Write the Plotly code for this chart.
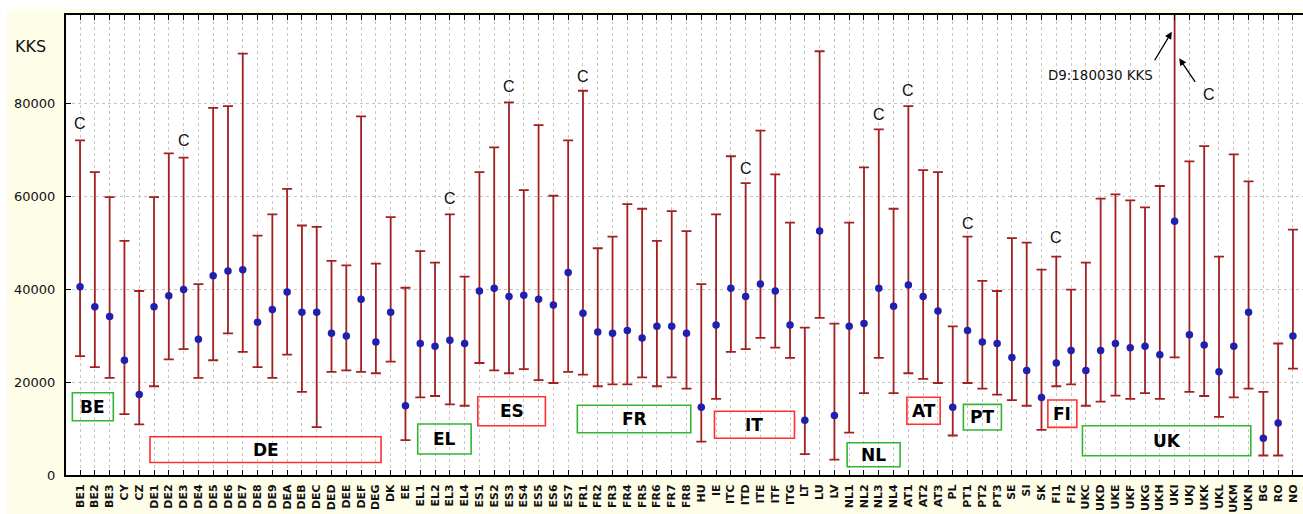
import plotly.graph_objects as go

regions = ["BE1","BE2","BE3","CY","CZ","DE1","DE2","DE3","DE4","DE5","DE6","DE7","DE8","DE9","DEA","DEB","DEC","DED","DEE","DEF","DEG","DK","EE","EL1","EL2","EL3","EL4","ES1","ES2","ES3","ES4","ES5","ES6","ES7","FR1","FR2","FR3","FR4","FR5","FR6","FR7","FR8","HU","IE","ITC","ITD","ITE","ITF","ITG","LT","LU","LV","NL1","NL2","NL3","NL4","AT1","AT2","AT3","PL","PT1","PT2","PT3","SE","SI","SK","FI1","FI2","UKC","UKD","UKE","UKF","UKG","UKH","UKI","UKJ","UKK","UKL","UKM","UKN","BG","RO","NO"]

mean = [40500,36200,34100,24700,17300,36200,38600,39900,29200,42900,43900,44200,32900,35600,39400,35000,35000,30500,29900,37800,28600,35000,14900,28300,27700,29000,28300,39600,40200,38400,38700,37800,36600,43600,34800,30800,30500,31100,29500,32000,32000,30500,14600,32300,40200,38400,41100,39600,32300,11800,52500,12800,32000,32600,40200,36300,40900,38400,35300,14600,31100,28600,28300,25300,22500,16700,24100,26800,22500,26800,28300,27400,27700,25900,54600,30200,28000,22200,27700,35000,7900,11200,29900]

upper = [72000,65200,59800,50400,39600,59800,69200,68300,41100,79000,79400,90700,51500,56100,61600,53700,53400,46100,45100,77200,45500,55500,40300,48200,45700,56100,42700,65200,70500,80200,61300,75300,60100,72000,82700,48800,51300,58300,57300,50400,56800,52500,41100,56100,68600,62800,74100,64700,54300,31700,91200,32600,54300,66200,74400,57300,79400,65600,65200,32000,51300,41800,39600,51000,50000,44200,47000,39900,45700,59500,60400,59100,57600,62200,180030,67500,70800,47000,69000,63200,17900,28300,52800]

lower = [25600,23200,20900,13100,10900,19100,24900,27100,20900,24700,30500,26500,23200,20900,25900,17900,10300,22200,22500,22200,21900,24400,7500,16700,17000,15200,14900,24100,22500,21900,22800,20400,19800,22200,21600,19100,19500,19500,21000,19100,21000,18600,7200,16400,26500,27100,29500,27400,25200,4500,33800,3300,9100,17600,25200,17600,21900,20700,19800,8500,19800,18600,17300,16100,14900,9700,19100,19500,14900,15800,17100,16400,17600,16400,25300,17900,17000,12500,16700,18600,4200,4200,22900]

y_ticks = [0, 20000, 40000, 60000, 80000]

# "C" markers: (region, label height)
c_marks = [("BE1",75750),("DE3",72090),("EL3",59610),("ES3",83710),("FR1",85860),
           ("ITD",66070),("NL3",77690),("AT1",82850),("PT1",54230),("FI1",51220)]

# country group boxes: (label, x0, x1, y0, y1, colour)
groups = [
    ("BE", -0.52, 2.25, 11690, 17710, "#33b533"),
    ("DE", 4.73, 20.35, 2690, 8240, "#ff3030"),
    ("EL", 22.83, 26.44, 4520, 10975, "#33b533"),
    ("ES", 26.89, 31.46, 10610, 16850, "#ff3030"),
    ("FR", 33.62, 41.29, 9100, 15000, "#33b533"),
    ("IT", 42.89, 48.30, 7900, 13710, "#ff3030"),
    ("NL", 51.86, 55.44, 1790, 6950, "#33b533"),
    ("AT", 55.90, 58.15, 10910, 16720, "#ff3030"),
    ("PT", 59.72, 62.29, 9680, 15210, "#33b533"),
    ("FI", 65.43, 67.39, 10260, 16140, "#ff3030"),
    ("UK", 67.77, 79.15, 4150, 10610, "#33b533"),
]

err_plus = [u - m for u, m in zip(upper, mean)]
err_minus = [m - l for m, l in zip(mean, lower)]

fig = go.Figure()
fig.add_trace(go.Scatter(
    x=regions, y=mean, mode="markers",
    marker=dict(color="#1f1fb0", size=7.5),
    error_y=dict(type="data", symmetric=False, array=err_plus, arrayminus=err_minus,
                 color="#a32020", thickness=1.8, width=5),
    showlegend=False,
))

for lab, x0, x1, y0, y1, col in groups:
    fig.add_shape(type="rect", x0=x0, x1=x1, y0=y0, y1=y1, xref="x", yref="y",
                  line=dict(color=col, width=1.6), fillcolor="rgba(0,0,0,0)")
    fig.add_annotation(x=(x0 + x1) / 2, y=(y0 + y1) / 2, text="<b>%s</b>" % lab,
                       showarrow=False, font=dict(size=17, color="black", family="DejaVu Sans"))

for reg, yv in c_marks:
    fig.add_annotation(x=regions.index(reg), y=yv, text="C", showarrow=False,
                       font=dict(size=16, color="#111111", family="Liberation Sans"))

# UKI annotations
uki = regions.index("UKI")
fig.add_annotation(x=68.97, y=86080, text="D9:180030 KKS", showarrow=False,
                   font=dict(size=13.4, color="#111111", family="DejaVu Sans"))
fig.add_annotation(x=uki - 0.19, y=95400, text="", showarrow=True, ax=-18, ay=30,
                   arrowhead=2, arrowsize=1.1, arrowwidth=1.3, arrowcolor="black")
fig.add_annotation(x=uki + 0.31, y=89670, text="", showarrow=True, ax=17, ay=25,
                   arrowhead=2, arrowsize=1.1, arrowwidth=1.3, arrowcolor="black")
fig.add_annotation(x=76.34, y=81930, text="C", showarrow=False,
                   font=dict(size=16, color="#111111", family="Liberation Sans"))

# axis title "KKS"
fig.add_annotation(xref="paper", yref="paper", x=-0.0283, y=0.9326, text="KKS",
                   xanchor="center", yanchor="middle",
                   showarrow=False, font=dict(size=16, color="#111111", family="DejaVu Sans"))

# white border strips (top and left)
fig.add_shape(type="rect", xref="paper", yref="paper", x0=-0.06, x1=1.01, y0=1.013, y1=1.05,
              fillcolor="white", line=dict(width=0), layer="above")
fig.add_shape(type="rect", xref="paper", yref="paper", x0=-0.06, x1=-0.0477, y0=-0.1, y1=1.05,
              fillcolor="white", line=dict(width=0), layer="above")

fig.update_xaxes(
    type="category", range=[-0.95, 82.68], automargin=False,
    showline=True, linecolor="black", linewidth=2, mirror="ticks",
    ticks="inside", ticklen=5, tickcolor="black", tickwidth=1,
    tickangle=-90, tickfont=dict(size=11, color="#111111", family="DejaVu Sans", weight="bold"),
    ticklabelstandoff=3,
    showgrid=True, gridcolor="#c4c4c4", griddash="dot", gridwidth=1,
    zeroline=False,
)
fig.update_yaxes(
    range=[0, 99000], tickvals=y_ticks, ticktext=[str(v) for v in y_ticks], automargin=False,
    showline=True, linecolor="black", linewidth=2,
    ticks="inside", ticklen=5, tickcolor="black", tickwidth=1,
    tickfont=dict(size=13, color="#111111", family="DejaVu Sans"),
    showgrid=True, gridcolor="#c4c4c4", griddash="dot", gridwidth=1,
    zeroline=False, ticklabelstandoff=6,
)
fig.update_layout(
    width=1303, height=514,
    margin=dict(l=66, r=0, t=15, b=39),
    paper_bgcolor="#fdfde8", plot_bgcolor="white",
    font=dict(family="DejaVu Sans"),
)
fig.write_html("out.html")
